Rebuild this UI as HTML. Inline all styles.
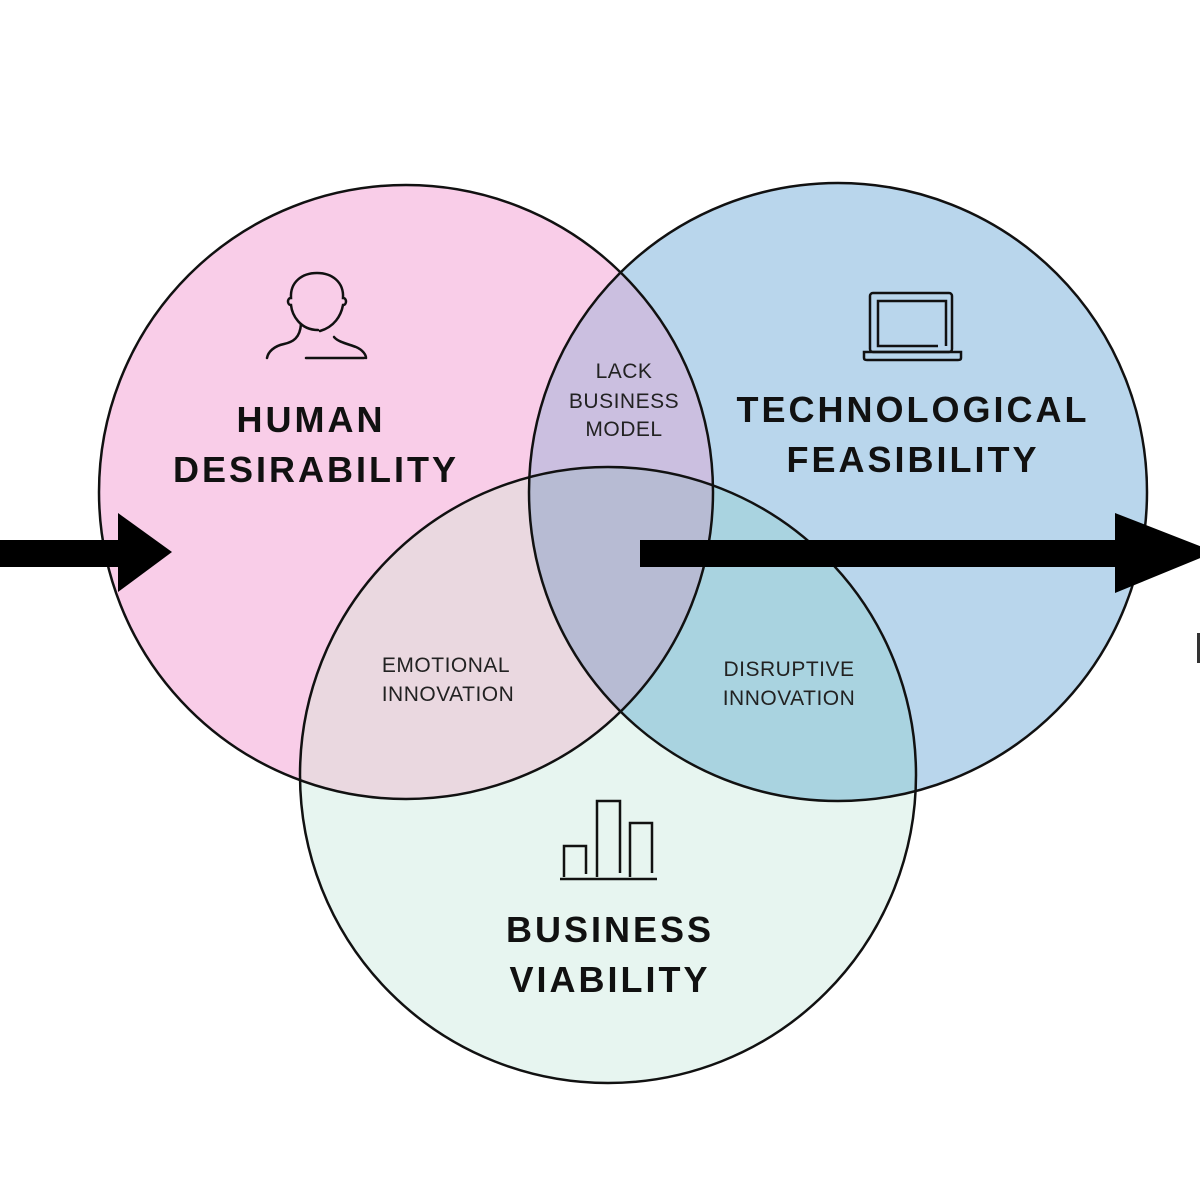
<!DOCTYPE html>
<html><head><style>html,body{margin:0;padding:0;background:#fff;}svg{display:block}</style></head>
<body>
<svg width="1200" height="1200" viewBox="0 0 1200 1200" xmlns="http://www.w3.org/2000/svg" font-family="'Liberation Sans', sans-serif">
<defs>
<clipPath id="cP"><circle cx="406" cy="492" r="307"/></clipPath>
<clipPath id="cB"><circle cx="838" cy="492" r="309"/></clipPath>
<clipPath id="cG"><circle cx="608" cy="775" r="308"/></clipPath>
</defs>
<rect width="1200" height="1200" fill="#fff"/>
<circle cx="406" cy="492" r="307" fill="#f9cde8"/>
<circle cx="838" cy="492" r="309" fill="#b9d6ec"/>
<circle cx="608" cy="775" r="308" fill="#e7f5f0"/>
<g clip-path="url(#cP)"><circle cx="838" cy="492" r="309" fill="#cbbfe0"/><circle cx="608" cy="775" r="308" fill="#ead8e0"/></g>
<g clip-path="url(#cB)"><circle cx="608" cy="775" r="308" fill="#a9d3e0"/></g>
<g clip-path="url(#cP)"><g clip-path="url(#cB)"><circle cx="608" cy="775" r="308" fill="#b7bbd3"/></g></g>
<g fill="none" stroke="#111" stroke-width="2.5">
<circle cx="406" cy="492" r="307"/><circle cx="838" cy="492" r="309"/><circle cx="608" cy="775" r="308"/>
</g>
<rect x="0" y="540" width="120" height="27" fill="#000"/>
<polygon points="118,513 172,552 118,592" fill="#000"/>
<rect x="640" y="540" width="480" height="27" fill="#000"/>
<polygon points="1115,513 1215,552 1115,593" fill="#000"/>
<rect x="1197" y="633" width="3" height="30" fill="#333"/>
<g fill="none" stroke="#111" stroke-width="2.5" stroke-linecap="round">
<path d="M318,330 C300,330 292,315 291,305 C287,305 287,298 291,298 C290,282 302,273 317,273 C332,273 344,282 343,298 C347,298 347,305 343,305 C341,316 334,327 320,331"/>
<path d="M301,324 C300,338 293,342 284,344 C274,346 268,352 267,358"/>
<path d="M334,337 C338,342 348,344 356,347 C363,350 366,355 366,358"/>
<path d="M306,358 H364"/>
</g>
<g fill="none" stroke="#111" stroke-width="2.5">
<rect x="870" y="293" width="82" height="59" rx="3"/>
<path d="M938,346 H878 V301 H946 V346"/>
<path d="M864,352 H961 V358 Q961,360 958,360 H867 Q864,360 864,358 Z"/>
</g>
<g fill="none" stroke="#111" stroke-width="2.5">
<path d="M560,879 H657"/>
<path d="M564,877 V846 H586 V874"/>
<path d="M597,877 V801 H620 V873"/>
<path d="M630,877 V823 H652 V873"/>
</g>
<g font-weight="bold" fill="#111" text-anchor="middle" font-size="36" letter-spacing="3">
<text x="311" y="432">HUMAN</text>
<text x="316" y="482">DESIRABILITY</text>
<text x="913" y="422">TECHNOLOGICAL</text>
<text x="913" y="472">FEASIBILITY</text>
<text x="610" y="942">BUSINESS</text>
<text x="610" y="992">VIABILITY</text>
</g>
<g fill="#222" text-anchor="middle" font-size="21" letter-spacing="0.5">
<text x="624" y="378">LACK</text>
<text x="624" y="408">BUSINESS</text>
<text x="624" y="436">MODEL</text>
<text x="446" y="672">EMOTIONAL</text>
<text x="448" y="701">INNOVATION</text>
<text x="789" y="676">DISRUPTIVE</text>
<text x="789" y="705">INNOVATION</text>
</g>
</svg>
</body></html>
